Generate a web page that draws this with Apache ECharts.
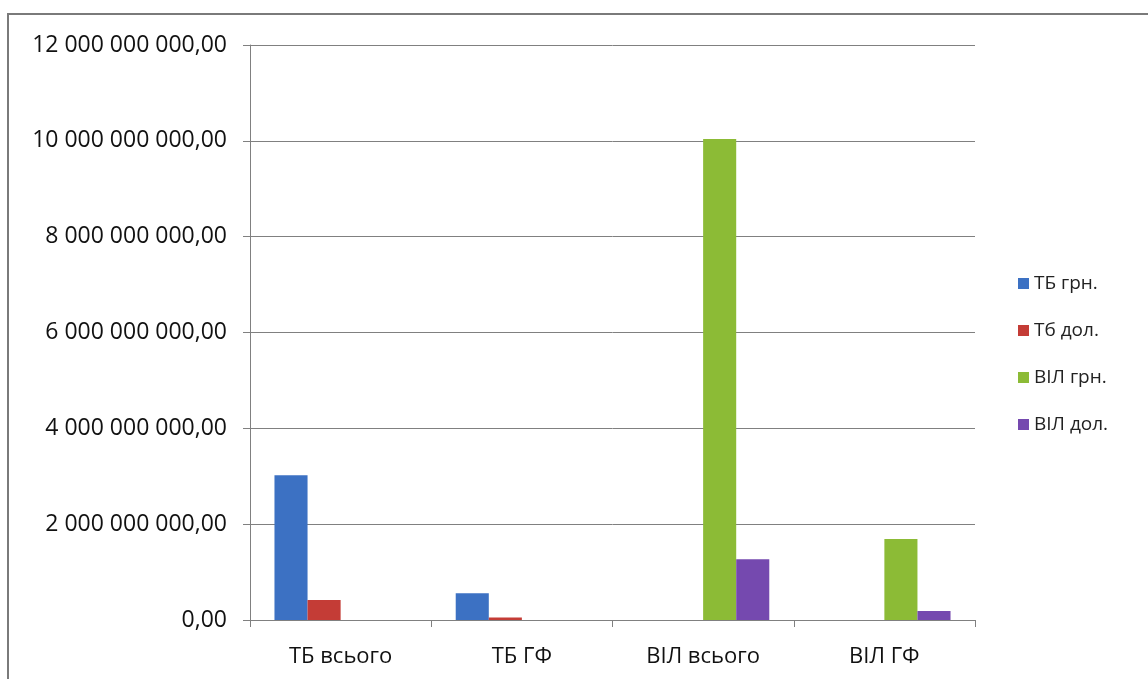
<!DOCTYPE html>
<html>
<head>
<meta charset="utf-8">
<script src="https://cdn.jsdelivr.net/npm/echarts@6/dist/echarts.min.js"></script>
<style>
  html, body { margin: 0; padding: 0; background: #fff; overflow: hidden; }
  #frame { position: absolute; left: 7px; top: 13px; width: 1200px; height: 700px;
           border-top: 2px solid #7a7a7a; border-left: 2px solid #7a7a7a; }
  #chart { position: absolute; left: 0; top: 0; width: 1148px; height: 679px; }
</style>
</head>
<body>
<div id="frame"></div>
<div id="chart"></div>
<script>
const categories = ['ТБ всього', 'ТБ ГФ', 'ВІЛ всього', 'ВІЛ ГФ'];
const seriesNames = ['ТБ грн.', 'Тб дол.', 'ВІЛ грн.', 'ВІЛ дол.'];
const tbUah  = [3020000000, 560000000, 0, 0];
const tbUsd  = [420000000, 50000000, 0, 0];
const hivUah = [0, 0, 10040000000, 1690000000];
const hivUsd = [0, 0, 1270000000, 190000000];
const colors = ['#3c71c3', '#c43c36', '#8cbb36', '#7549af'];

// value axis labels: space-grouped thousands, comma decimals
function fmt(v) {
  const s = Math.round(v).toString().replace(/\B(?=(\d{3})+(?!\d))/g, ' ');
  return s + ',00';
}

const values = [tbUah, tbUsd, hivUah, hivUsd];
const chart = echarts.init(document.getElementById('chart'));
chart.setOption({
  animation: false,
  textStyle: { fontFamily: '"Open Sans", "DejaVu Sans", sans-serif' },
  grid: { left: 250, right: 173, top: 45, bottom: 59 },
  legend: {
    orient: 'vertical',
    left: 1013, top: 268,
    itemWidth: 11, itemHeight: 11, itemGap: 26,
    icon: 'rect',
    textStyle: { fontSize: 19, color: '#222', lineHeight: 21 },
    data: seriesNames
  },
  xAxis: {
    type: 'category',
    data: categories,
    axisLine: { lineStyle: { color: '#808080', width: 1 } },
    axisTick: { show: true, length: 7, lineStyle: { color: '#808080' } },
    axisLabel: { fontSize: 22, color: '#111', margin: 26 }
  },
  yAxis: {
    type: 'value',
    min: 0, max: 12000000000, interval: 2000000000,
    axisLine: { show: true, lineStyle: { color: '#808080', width: 1 } },
    axisTick: { show: true, length: 7, lineStyle: { color: '#808080' } },
    splitLine: { lineStyle: { color: '#808080', width: 1 } },
    axisLabel: { fontSize: 23, color: '#111', margin: 23, formatter: fmt }
  },
  series: seriesNames.map((n, i) => ({
    name: n,
    type: 'bar',
    data: values[i],
    barGap: '0%',
    barCategoryGap: '27%',
    itemStyle: { color: colors[i] }
  }))
});
</script>
</body>
</html>
